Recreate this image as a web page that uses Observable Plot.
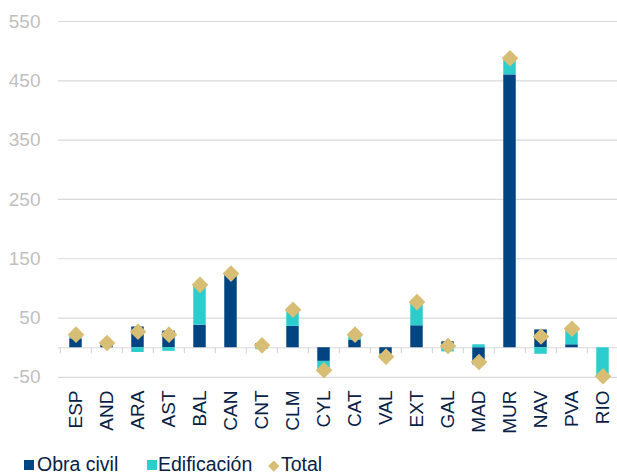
<!DOCTYPE html>
<html>
<head>
<meta charset="utf-8">
<script src="https://cdn.jsdelivr.net/npm/d3@7"></script>
<script src="https://cdn.jsdelivr.net/npm/@observablehq/plot@0.6"></script>
<style>
  body { margin: 0; background: #fff; font-family: "Liberation Sans", Arial, sans-serif; }
  #wrap { position: relative; width: 617px; height: 474px; overflow: hidden; }
  #wrap svg { display: block; overflow: hidden; }
  .lg { position: absolute; top: 453px; font-size: 19.5px; color: #072146; line-height: 22px; white-space: nowrap; }
  .sw { position: absolute; width: 10px; height: 10px; }
  .dm { position: absolute; width: 7.5px; height: 7.5px; transform: rotate(45deg); }
</style>
</head>
<body>
<div id="wrap"></div>
<script>
// Regions and their contribution, split by type of work
const regions = ["ESP","AND","ARA","AST","BAL","CAN","CNT","CLM","CYL","CAT","VAL","EXT","GAL","MAD","MUR","NAV","PVA","RIO"];
const obraCivil   = [15, 4, 35, 28, 38, 122, 7, 36, -23, 13, -11, 37, 10, -29, 460, 30, 5, 0];
const edificacion = [7, 4, -8, -6, 68, 3, -3, 28, -15, 9, -4, 40, -7, 5, 28, -11, 27, -48];
const total       = [22, 8, 27, 22, 106, 125, 4, 64, -38, 22, -15, 77, 3, -24, 488, 19, 32, -48];
const yTicks = [-50, 50, 150, 250, 350, 450, 550];

const seriesNames = ["Obra civil", "Edificación"];
const colors = { "Obra civil": "#004481", "Edificación": "#2DCCCD" };
const totalColor = "#D8BE75";

const rows = [];
regions.forEach((r, i) => {
  rows.push({ region: r, series: "Obra civil", value: obraCivil[i] });
  rows.push({ region: r, series: "Edificación", value: edificacion[i] });
});
const totals = regions.map((r, i) => ({ region: r, value: total[i] }));

const x0 = 58, x1 = 620.2;
const step = (x1 - x0) / regions.length;
const barW = 12.7;
const inset = (step - barW) / 2;

const chart = Plot.plot({
  width: 617,
  height: 440,
  marginLeft: 58,
  marginRight: 0,
  marginTop: 21,
  marginBottom: 63,
  style: { fontFamily: "'Liberation Sans', Arial, sans-serif", fontSize: "19px", background: "#fff" },
  x: { domain: regions, range: [x0, x1], padding: 0 },
  y: { domain: [-50, 550], range: [376.9, 21] },
  color: { domain: seriesNames, range: seriesNames.map(s => colors[s]) },
  marks: [
    Plot.ruleY(yTicks, { stroke: "#D9D9D9", strokeWidth: 1.2 }),
    Plot.ruleY([0], { stroke: "#D9D9D9", strokeWidth: 1.2 }),
    Plot.ruleX(regions, { x: d => d, y1: 0, y2: -10, dx: -step / 2, stroke: "#D9D9D9", strokeWidth: 1.2 }),
    Plot.barY(rows, Plot.stackY({
      x: "region", y: "value", fill: "series", order: null,
      insetLeft: inset, insetRight: inset
    })),
    Plot.dot(totals, { x: "region", y: "value", symbol: "diamond2", fill: totalColor, stroke: null, r: 7.5 }),
    Plot.axisY({ ticks: yTicks, tickFormat: d => String(d), tickSize: 0, tickPadding: 18, fill: "#BFBFBF", fontSize: 19, label: null }),
    Plot.axisX({ tickRotate: -90, tickSize: 0, tickPadding: 13, fill: "#072146", fontSize: 19, label: null })
  ]
});

const wrap = document.getElementById("wrap");
wrap.appendChild(chart);

// Legend below the plot
const legendItems = [
  { kind: "sw", color: colors["Obra civil"], sx: 24, tx: 37, text: "Obra civil" },
  { kind: "sw", color: colors["Edificación"], sx: 147, tx: 158, text: "Edificación" },
  { kind: "dm", color: totalColor, sx: 270, tx: 281, text: "Total" }
];
legendItems.forEach(it => {
  const m = document.createElement("div");
  m.className = it.kind;
  m.style.background = it.color;
  m.style.left = it.sx + "px";
  m.style.top = it.kind === "sw" ? "460px" : "461.5px";
  wrap.appendChild(m);
  const t = document.createElement("div");
  t.className = "lg";
  t.style.left = it.tx + "px";
  t.textContent = it.text;
  wrap.appendChild(t);
});
</script>
</body>
</html>
